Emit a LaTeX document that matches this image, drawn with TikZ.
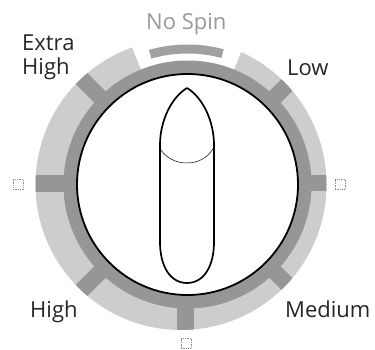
\documentclass[tikz,border=0pt]{standalone}
\usepackage{fontspec}
\setmainfont{Open Sans}
\definecolor{ringlight}{RGB}{205, 205, 205}
\definecolor{ringdark}{RGB}{150, 150, 150}
\definecolor{spingray}{RGB}{160, 160, 160}
\usetikzlibrary{positioning, calc}

\begin{document}
\begin{tikzpicture}[
        x=1pt, y=-1pt,
        lbl/.style={inner sep=0pt, anchor=base west, font=\fontsize{22}{26}\selectfont, text=black!85},
        tick/.style={draw=black!45, densely dotted, line width=0.7pt, minimum size=10pt, inner sep=0pt},
        tab/.style={fill=ringdark}
      ]
        \useasboundingbox (0,0) rectangle (375,350);
        \coordinate (hub) at (187.5,184.5);

        % rings
        \fill[ringlight] (181,184.5) circle[radius=145.5pt];
        \fill[white] (hub) -- ++(112:175pt) arc[start angle=112, end angle=68, radius=175pt] -- cycle;
        \begin{scope}
          \clip (181,184.5) circle[radius=145.5pt];
          \foreach \ang in {45,135,225,315}
            \fill[tab, rotate around={\ang:(hub)}] ($(hub)+(100,-8)$) rectangle ($(hub)+(170,8)$);
          \fill[tab] (35,175.5) rectangle (100,192);
          \fill[tab] (280,175.5) rectangle (330,191.5);
          \fill[tab] (177,280) rectangle (193.5,335);
        \end{scope}
        \fill[ringdark] (hub) circle[radius=124pt];
        \draw[fill=white, line width=1.8pt] (hub) circle[radius=110.5pt];

        % no spin bar
        \fill[spingray] ($(hub)+(106:131pt)$) arc[start angle=106, end angle=75, radius=131pt]
          -- ($(hub)+(75:140pt)$) arc[start angle=75, end angle=106, radius=140pt] -- cycle;

        % pointer
        \draw[line width=1.7pt, line join=round] (187,88) .. controls (172,97) and (160,120) .. (160,145)
          -- (160,242) .. controls (160,266) and (170,283) .. (187,283)
          .. controls (204,283) and (214,266) .. (214,242)
          -- (214,145) .. controls (214,120) and (202,97) .. (187,88);
        \draw[line width=0.5pt] (159,147) .. controls (165,158) and (176,163) .. (187,163)
          .. controls (198,163) and (209,158) .. (215,145);

        % labels
        \node[lbl, text=black!40] (nospin) at (146,30) {No Spin};
        \node[lbl] (extra) at (22,51) {Extra};
        \node[lbl] (xhigh) at (22,75) {High};
        \node[lbl] (low) at (287,76) {Low};
        \node[lbl] (high) at (30,317) {High};
        \node[lbl] (medium) at (285,317) {Medium};

        \node[tick] (tickl) at (18,184.5) {};
        \node[tick] (tickr) at (340,184) {};
        \node[tick] (tickb) at (186,343) {};
      \end{tikzpicture}
\end{document}
